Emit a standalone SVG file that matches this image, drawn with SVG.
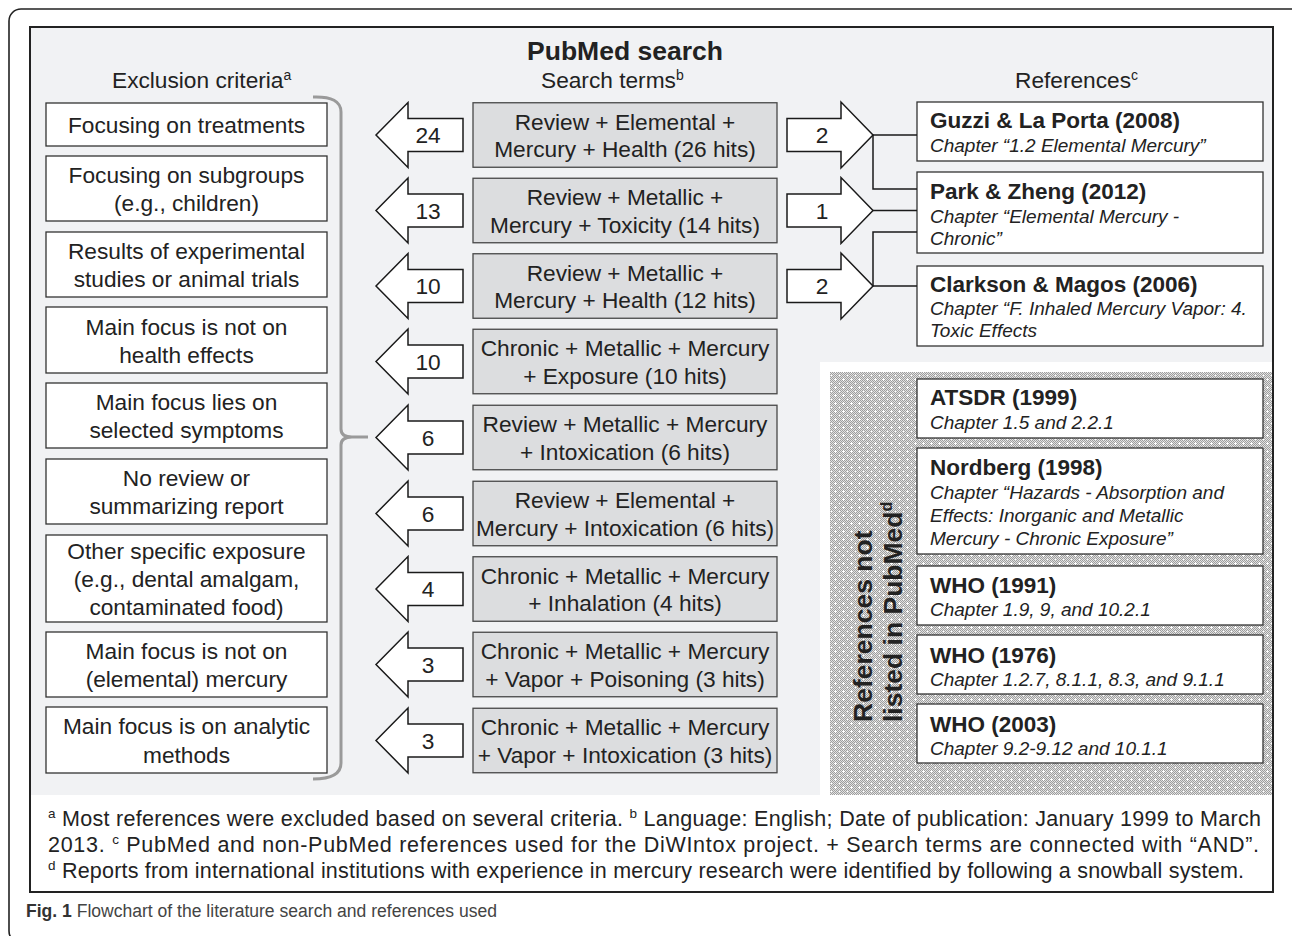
<svg xmlns="http://www.w3.org/2000/svg" width="1292" height="936" viewBox="0 0 1292 936">
<style>
.t{font-family:"Liberation Sans",Arial,Helvetica,sans-serif;fill:#222;}
.m{font-size:22.7px;}
.c{text-anchor:middle;}
.b{font-weight:bold;}
.h{font-size:22.5px;font-weight:bold;}
.i{font-size:19px;font-style:italic;}
.box{fill:#fff;stroke:#333;stroke-width:1.3;}
.sbox{fill:#dcdddf;stroke:#484848;stroke-width:1.3;}
.arr{fill:#fff;stroke:#1a1a1a;stroke-width:1.5;stroke-linejoin:miter;}
.con{fill:none;stroke:#1a1a1a;stroke-width:1.5;}
.fn{font-size:21.5px;}
</style>
<defs>
<pattern id="chk" width="2" height="2" patternUnits="userSpaceOnUse">
<rect width="2" height="2" fill="#e2e2e2"/>
<rect x="0" y="0" width="1" height="1" fill="#9e9e9e"/>
<rect x="1" y="1" width="1" height="1" fill="#9e9e9e"/>
</pattern>
<pattern id="dots" width="8" height="8" patternUnits="userSpaceOnUse">
<rect width="8" height="8" fill="url(#chk)"/>
<rect x="3" y="2" width="1" height="3" fill="#fff"/>
<rect x="2" y="3" width="3" height="1" fill="#fff"/>
<rect x="7" y="7" width="1" height="1" fill="#fff"/>
</pattern>
</defs>
<rect x="0" y="0" width="1292" height="936" fill="#fff"/>
<!-- outer frame -->
<rect x="9" y="9" width="1300" height="934" rx="12" fill="none" stroke="#222" stroke-width="1.6"/>
<!-- inner frame -->
<rect x="30" y="27" width="1243" height="865" fill="#fff"/>
<rect x="30" y="27" width="1243" height="768" fill="#f1f2f4"/>
<rect x="820" y="362" width="453" height="433" fill="#fff"/>
<rect x="830" y="372" width="443" height="423" fill="url(#dots)"/>
<rect x="30" y="27" width="1243" height="865" fill="none" stroke="#222" stroke-width="2"/>

<!-- headers -->
<g id="headers">
<text class="t b c" x="625" y="60" font-size="26.5">PubMed search</text>
<text class="t m" x="112" y="88">Exclusion criteria<tspan font-size="14" dy="-8">a</tspan></text>
<text class="t m" x="541" y="88">Search terms<tspan font-size="14" dy="-8">b</tspan></text>
<text class="t m" x="1015" y="88">References<tspan font-size="14" dy="-8">c</tspan></text>
</g>

<!-- bracket -->
<g id="bracket">
<path d="M313 97 Q341 96 341 112 V429 Q341 437 352 437 H368 M352 437 Q341 437 341 445 V763 Q341 779 313 779" fill="none" stroke="#9a9a9a" stroke-width="3"/>
</g>

<!-- exclusion criteria -->
<g id="ex1"><rect class="box" x="46" y="103" width="281" height="43"/><text class="t m c" x="186.5" y="132.5">Focusing on treatments</text></g>
<g id="ex2"><rect class="box" x="46" y="156" width="281" height="65"/><text class="t m c" x="186.5" y="182.5">Focusing on subgroups</text><text class="t m c" x="186.5" y="211">(e.g., children)</text></g>
<g id="ex3"><rect class="box" x="46" y="232" width="281" height="65"/><text class="t m c" x="186.5" y="258.5">Results of experimental</text><text class="t m c" x="186.5" y="287">studies or animal trials</text></g>
<g id="ex4"><rect class="box" x="46" y="307" width="281" height="66"/><text class="t m c" x="186.5" y="334.5">Main focus is not on</text><text class="t m c" x="186.5" y="363">health effects</text></g>
<g id="ex5"><rect class="box" x="46" y="383" width="281" height="65"/><text class="t m c" x="186.5" y="409.5">Main focus lies on</text><text class="t m c" x="186.5" y="438">selected symptoms</text></g>
<g id="ex6"><rect class="box" x="46" y="459" width="281" height="65"/><text class="t m c" x="186.5" y="485.5">No review or</text><text class="t m c" x="186.5" y="514">summarizing report</text></g>
<g id="ex7"><rect class="box" x="46" y="535" width="281" height="87"/><text class="t m c" x="186.5" y="558.5">Other specific exposure</text><text class="t m c" x="186.5" y="586.5">(e.g., dental amalgam,</text><text class="t m c" x="186.5" y="614.5">contaminated food)</text></g>
<g id="ex8"><rect class="box" x="46" y="632" width="281" height="65"/><text class="t m c" x="186.5" y="658.5">Main focus is not on</text><text class="t m c" x="186.5" y="687">(elemental) mercury</text></g>
<g id="ex9"><rect class="box" x="46" y="707" width="281" height="66"/><text class="t m c" x="186.5" y="734">Main focus is on analytic</text><text class="t m c" x="186.5" y="762.5">methods</text></g>

<!-- search term boxes -->
<g id="s1"><rect class="sbox" x="473" y="102.75" width="304" height="64.5"/><text class="t m c" x="625" y="129.5">Review + Elemental +</text><text class="t m c" x="625" y="157">Mercury + Health (26 hits)</text></g>
<g id="s2"><rect class="sbox" x="473" y="178.25" width="304" height="64.5"/><text class="t m c" x="625" y="205">Review + Metallic +</text><text class="t m c" x="625" y="232.5">Mercury + Toxicity (14 hits)</text></g>
<g id="s3"><rect class="sbox" x="473" y="253.75" width="304" height="64.5"/><text class="t m c" x="625" y="280.5">Review + Metallic +</text><text class="t m c" x="625" y="308">Mercury + Health (12 hits)</text></g>
<g id="s4"><rect class="sbox" x="473" y="329.25" width="304" height="64.5"/><text class="t m c" x="625" y="356">Chronic + Metallic + Mercury</text><text class="t m c" x="625" y="383.5">+ Exposure (10 hits)</text></g>
<g id="s5"><rect class="sbox" x="473" y="405.25" width="304" height="64.5"/><text class="t m c" x="625" y="432">Review + Metallic + Mercury</text><text class="t m c" x="625" y="459.5">+ Intoxication (6 hits)</text></g>
<g id="s6"><rect class="sbox" x="473" y="481.25" width="304" height="64.5"/><text class="t m c" x="625" y="508">Review + Elemental +</text><text class="t m c" x="625" y="535.5">Mercury + Intoxication (6 hits)</text></g>
<g id="s7"><rect class="sbox" x="473" y="556.75" width="304" height="64.5"/><text class="t m c" x="625" y="583.5">Chronic + Metallic + Mercury</text><text class="t m c" x="625" y="611">+ Inhalation (4 hits)</text></g>
<g id="s8"><rect class="sbox" x="473" y="632.25" width="304" height="64.5"/><text class="t m c" x="625" y="659">Chronic + Metallic + Mercury</text><text class="t m c" x="625" y="686.5">+ Vapor + Poisoning (3 hits)</text></g>
<g id="s9"><rect class="sbox" x="473" y="708.25" width="304" height="64.5"/><text class="t m c" x="625" y="735">Chronic + Metallic + Mercury</text><text class="t m c" x="625" y="762.5">+ Vapor + Intoxication (3 hits)</text></g>

<!-- reference boxes -->
<g id="r1"><rect class="box" x="917" y="102" width="346" height="59"/><text class="t h" x="930" y="128">Guzzi &amp; La Porta (2008)</text><text class="t i" x="930" y="152">Chapter “1.2 Elemental Mercury”</text></g>
<g id="r2"><rect class="box" x="917" y="172" width="346" height="81"/><text class="t h" x="930" y="199">Park &amp; Zheng (2012)</text><text class="t i" x="930" y="223">Chapter “Elemental Mercury -</text><text class="t i" x="930" y="245">Chronic”</text></g>
<g id="r3"><rect class="box" x="917" y="266" width="346" height="80"/><text class="t h" x="930" y="292">Clarkson &amp; Magos (2006)</text><text class="t i" x="930" y="315">Chapter “F. Inhaled Mercury Vapor: 4.</text><text class="t i" x="930" y="337">Toxic Effects</text></g>
<g id="r4"><rect class="box" x="917" y="379" width="346" height="59"/><text class="t h" x="930" y="405">ATSDR (1999)</text><text class="t i" x="930" y="429">Chapter 1.5 and 2.2.1</text></g>
<g id="r5"><rect class="box" x="917" y="448" width="346" height="106"/><text class="t h" x="930" y="475">Nordberg (1998)</text><text class="t i" x="930" y="499">Chapter “Hazards - Absorption and</text><text class="t i" x="930" y="522">Effects: Inorganic and Metallic</text><text class="t i" x="930" y="545">Mercury - Chronic Exposure”</text></g>
<g id="r6"><rect class="box" x="917" y="566" width="346" height="59"/><text class="t h" x="930" y="593">WHO (1991)</text><text class="t i" x="930" y="616">Chapter 1.9, 9, and 10.2.1</text></g>
<g id="r7"><rect class="box" x="917" y="635" width="346" height="59"/><text class="t h" x="930" y="663">WHO (1976)</text><text class="t i" x="930" y="686">Chapter 1.2.7, 8.1.1, 8.3, and 9.1.1</text></g>
<g id="r8"><rect class="box" x="917" y="704" width="346" height="59"/><text class="t h" x="930" y="732">WHO (2003)</text><text class="t i" x="930" y="755">Chapter 9.2-9.12 and 10.1.1</text></g>

<g id="nonpubmed-label">
<g transform="translate(872,722) rotate(-90)">
<text class="t b" x="0" y="0" font-size="26.5">References not</text>
<text class="t b" x="0" y="30" font-size="26.5">listed in PubMed<tspan font-size="16" dy="-10">d</tspan></text>
</g>
</g>

<!-- connectors -->
<g id="connectors">
<path class="arr" d="M376 135 L408 102.5 V118.5 H463 V151.5 H408 V167.5 Z"/>
<path class="arr" d="M376 210.5 L408 178 V194 H463 V227 H408 V243 Z"/>
<path class="arr" d="M376 286 L408 253.5 V269.5 H463 V302.5 H408 V318.5 Z"/>
<path class="arr" d="M376 361.5 L408 329 V345 H463 V378 H408 V394 Z"/>
<path class="arr" d="M376 437.5 L408 405 V421 H463 V454 H408 V470 Z"/>
<path class="arr" d="M376 513.5 L408 481 V497 H463 V530 H408 V546 Z"/>
<path class="arr" d="M376 589 L408 556.5 V572.5 H463 V605.5 H408 V621.5 Z"/>
<path class="arr" d="M376 664.5 L408 632 V648 H463 V681 H408 V697 Z"/>
<path class="arr" d="M376 740.5 L408 708 V724 H463 V757 H408 V773 Z"/>
<text class="t m c" x="428" y="143">24</text>
<text class="t m c" x="428" y="218.5">13</text>
<text class="t m c" x="428" y="294">10</text>
<text class="t m c" x="428" y="369.5">10</text>
<text class="t m c" x="428" y="445.5">6</text>
<text class="t m c" x="428" y="521.5">6</text>
<text class="t m c" x="428" y="597">4</text>
<text class="t m c" x="428" y="672.5">3</text>
<text class="t m c" x="428" y="748.5">3</text>
<path class="arr" d="M787 118.5 H841 V102 L873 135 L841 168 V151.5 H787 Z"/>
<path class="arr" d="M787 194 H841 V177.5 L873 210.5 L841 243.5 V227 H787 Z"/>
<path class="arr" d="M787 269.5 H841 V253 L873 286 L841 319 V302.5 H787 Z"/>
<text class="t m c" x="822" y="143">2</text>
<text class="t m c" x="822" y="218.5">1</text>
<text class="t m c" x="822" y="294">2</text>
<path class="con" d="M873 135 H917 M873 135 V189 H917 M873 210.5 H917 M873 286 H917 M873 286 V232 H917"/>
</g>

<!-- footnotes -->
<g id="footnotes">
<text class="t fn" x="48" y="826" textLength="1213" lengthAdjust="spacing"><tspan font-size="13.5" dy="-8">a</tspan><tspan dy="8"> Most references were excluded based on several criteria. </tspan><tspan font-size="13.5" dy="-8">b</tspan><tspan dy="8"> Language: English; Date of publication: January 1999 to March</tspan></text>
<text class="t fn" x="48" y="852" textLength="1211" lengthAdjust="spacing">2013. <tspan font-size="13.5" dy="-8">c</tspan><tspan dy="8"> PubMed and non-PubMed references used for the DiWIntox project. + Search terms are connected with “AND”.</tspan></text>
<text class="t fn" x="48" y="878" textLength="1196" lengthAdjust="spacing"><tspan font-size="13.5" dy="-8">d</tspan><tspan dy="8"> Reports from international institutions with experience in mercury research were identified by following a snowball system.</tspan></text>
</g>

<!-- caption -->
<g id="caption">
<text class="t" x="26" y="917" font-size="18" textLength="471" lengthAdjust="spacingAndGlyphs" fill="#333"><tspan font-weight="bold" fill="#333">Fig. 1</tspan><tspan fill="#444"> Flowchart of the literature search and references used</tspan></text>
</g>
</svg>
